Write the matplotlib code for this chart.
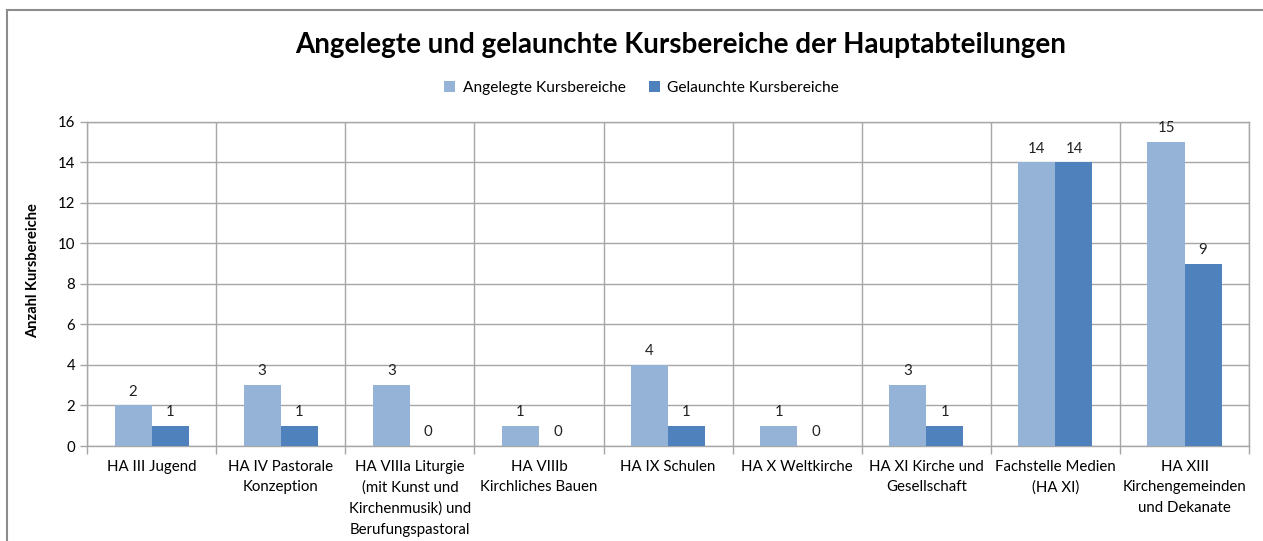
import numpy as np
import matplotlib.pyplot as plt
from matplotlib.lines import Line2D

plt.rcParams['font.family'] = ['Lato', 'DejaVu Sans']

# data
categories = ["HA III Jugend",
              "HA IV Pastorale\nKonzeption",
              "HA VIIIa Liturgie\n(mit Kunst und\nKirchenmusik) und\nBerufungspastoral",
              "HA VIIIb\nKirchliches Bauen",
              "HA IX Schulen",
              "HA X Weltkirche",
              "HA XI Kirche und\nGesellschaft",
              "Fachstelle Medien\n(HA XI)",
              "HA XIII\nKirchengemeinden\nund Dekanate"]
angelegt = [2, 3, 3, 1, 4, 1, 3, 14, 15]
gelauncht = [1, 1, 0, 0, 1, 0, 1, 14, 9]

light = '#95B3D7'
dark = '#4F81BD'
grid = '#a6a6a6'

fig = plt.figure(figsize=(12.63, 5.41), dpi=100)
ax = fig.add_axes([0.0689, 0.1756, 0.9201, 0.5989])

x = np.arange(len(categories))
w = 0.287
b1 = ax.bar(x - w/2, angelegt, w, color=light, label='Angelegte Kursbereiche', zorder=3)
b2 = ax.bar(x + w/2, gelauncht, w, color=dark, label='Gelaunchte Kursbereiche', zorder=3)
ax.bar_label(b1, padding=5, fontsize=10.8, color='#222222')
ax.bar_label(b2, padding=5, fontsize=10.8, color='#222222')

ax.set_xlim(-0.5, len(categories) - 0.5)
ax.set_ylim(0, 16)
ax.set_yticks(range(0, 17, 2))
ax.tick_params(axis='y', labelsize=10.8, length=5, color=grid, width=1)

# boundaries get the tick marks, centers get the labels
ax.set_xticks(np.arange(-0.5, len(categories)), minor=False)
ax.set_xticklabels([])
ax.set_xticks(x, minor=True)
ax.set_xticklabels(categories, minor=True, fontsize=10.8, linespacing=1.6)
ax.tick_params(axis='x', which='major', length=6, color=grid, width=1)
ax.tick_params(axis='x', which='minor', length=0, pad=10)

ax.grid(True, which='major', color=grid, linewidth=1, zorder=0)
for s in ax.spines.values():
    s.set_color(grid)
    s.set_linewidth(1)

ax.set_ylabel('Anzahl Kursbereiche', fontsize=10.5, fontweight='bold')
ax.yaxis.set_label_coords(-0.040, 0.54)

fig.text(0.539, 0.917, 'Angelegte und gelaunchte Kursbereiche der Hauptabteilungen',
         ha='center', va='center', fontsize=20, fontweight='bold')
fig.legend(loc='center', bbox_to_anchor=(0.508, 0.837), ncol=2, frameon=False,
           fontsize=11.2, handlelength=0.7, handleheight=0.7, columnspacing=1.5,
           handletextpad=0.5)

# outer chart frame (cut off right and bottom)
fig.add_artist(Line2D([7/1263, 1], [1 - 10/541, 1 - 10/541], color='#8c8c8c', lw=1.5))
fig.add_artist(Line2D([7/1263, 7/1263], [0, 1 - 10/541], color='#8c8c8c', lw=1.5))

fig.savefig('out.png', dpi=100)
